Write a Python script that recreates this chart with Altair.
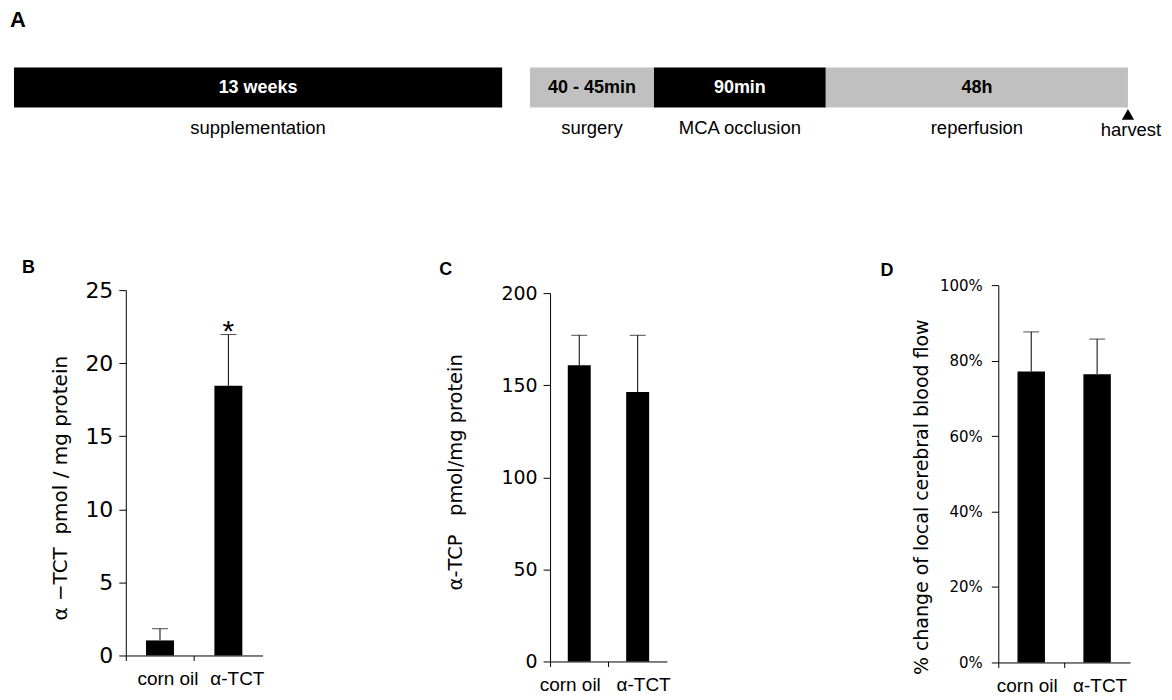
import altair as alt
import pandas as pd

# ---------------- data ----------------
groups = ["corn oil", "α-TCT"]

tct_mean = [1.03, 18.45]
tct_upper = [1.83, 21.96]
tct_sig = ["", "*"]
tct_ticks = [0, 5, 10, 15, 20, 25]

tcp_mean = [160.8, 146.3]
tcp_upper = [177.1, 177.1]
tcp_ticks = [0, 50, 100, 150, 200]

cbf_mean = [0.771, 0.764]
cbf_upper = [0.876, 0.857]
cbf_ticks = [0, 0.2, 0.4, 0.6, 0.8, 1.0]

phase_label = ["13 weeks", "40 - 45min", "90min", "48h"]
phase_caption = ["supplementation", "surgery", "MCA occlusion", "reperfusion"]
phase_start = [0, 105.7, 131.1, 166.3]
phase_end = [100, 131.1, 166.3, 228.2]
phase_shade = ["dark", "light", "dark", "light"]
harvest_at = [228.2]
harvest_label = ["harvest"]

SANS = "Liberation Sans"
WIDE = "DejaVu Sans"

# ---------------- panel A: timeline ----------------
dfA = pd.DataFrame({"label": phase_label, "caption": phase_caption,
                    "start": phase_start, "end": phase_end, "shade": phase_shade})
dfH = pd.DataFrame({"at": harvest_at, "label": harvest_label})

xsA = alt.Scale(domain=[0, 100], range=[-112, 377], zero=False, nice=False)

segs = alt.Chart(dfA).mark_rect().encode(
    x=alt.X("start:Q", scale=xsA, axis=None),
    x2="end:Q",
    color=alt.Color("shade:N", scale=alt.Scale(domain=["dark", "light"], range=["#000000", "#c0c0c0"]), legend=None),
)
seg_text = alt.Chart(dfA).transform_calculate(mid="(datum.start + datum.end) / 2").mark_text(
    font=SANS, fontSize=18, fontWeight="bold", baseline="alphabetic", dy=6
).encode(
    x=alt.X("mid:Q", scale=xsA, axis=None),
    text="label:N",
    color=alt.condition("datum.shade == 'dark'", alt.value("white"), alt.value("black")),
)
seg_caption = alt.Chart(dfA).transform_calculate(mid="(datum.start + datum.end) / 2").mark_text(
    font=SANS, fontSize=18.5, baseline="alphabetic", dy=47, color="black"
).encode(
    x=alt.X("mid:Q", scale=xsA, axis=None),
    text="caption:N",
)
harvest_pt = alt.Chart(dfH).mark_point(
    shape="triangle-up", filled=True, size=150, color="black", opacity=1, yOffset=27
).encode(x=alt.X("at:Q", scale=xsA, axis=None))
harvest_txt = alt.Chart(dfH).mark_text(
    font=SANS, fontSize=18.5, baseline="alphabetic", dy=49, dx=3, color="black"
).encode(x=alt.X("at:Q", scale=xsA, axis=None), text="label:N")

panelA = alt.layer(segs, seg_text, seg_caption, harvest_pt, harvest_txt).properties(
    width=1006, height=40,
    title=alt.TitleParams("A", anchor="start", frame="group", dx=-116, offset=19,
                          font=SANS, fontSize=22, fontWeight="bold", baseline="alphabetic", color="black"),
)


# ---------------- bar panels ----------------
def bar_panel(letter, letter_dx, letter_dy, mean, upper, sig, ticks, y_domain, y_range,
              plot_w, axis_w, bar_w, height, ytitle, title_x, title_y, title_size, tick_font, label_pad,
              off_first, off_second, fmt=None):
    df = pd.DataFrame({"group": groups, "mean": mean, "upper": upper, "sig": sig})
    xdef = alt.X("group:N", sort=groups,
                 scale=alt.Scale(range=[0, axis_w], paddingInner=0, paddingOuter=0),
                 axis=alt.Axis(title=None, labelAngle=0, bandPosition=0, tickSize=5,
                               labelPadding=9, labelFont=SANS, labelFontSize=19,
                               labelOffset={"condition": {"test": f"datum.value === '{groups[0]}'",
                                                          "value": off_first},
                                            "value": off_second},
                               labelColor="black", domainColor="black", tickColor="black"))
    axis_kw = dict(values=ticks, title=ytitle, grid=False, tickSize=7, labelPadding=label_pad,
                   labelFont=WIDE, labelFontSize=tick_font, labelColor="black",
                   titleFont=WIDE, titleFontSize=title_size, titleFontWeight="normal", titleColor="black",
                   titleX=title_x, titleY=title_y, titleBaseline="middle", titleAlign="center",
                   titleAngle=270, domainColor="black", tickColor="black")
    if fmt:
        axis_kw["format"] = fmt
    yaxis = alt.Axis(**axis_kw)
    ys = alt.Scale(domain=y_domain, range=y_range, nice=False, zero=True)

    def ydef(field):
        return alt.Y(f"{field}:Q", scale=ys, axis=yaxis)

    bars = alt.Chart(df).mark_bar(size=bar_w, color="black").encode(x=xdef, y=ydef("mean"))
    err = alt.Chart(df).mark_rule(color="black", strokeWidth=1).encode(x=xdef, y=ydef("mean"), y2="upper:Q")
    cap = alt.Chart(df).mark_tick(orient="horizontal", size=16, thickness=1, color="black").encode(
        x=xdef, y=ydef("upper"))
    star = alt.Chart(df).mark_text(font=SANS, fontSize=30, baseline="alphabetic", dy=6, color="black").encode(
        x=xdef, y=ydef("upper"), text="sig:N")
    return alt.layer(bars, err, cap, star).properties(
        width=plot_w, height=height,
        title=alt.TitleParams(letter, anchor="start", frame="group", dx=letter_dx, dy=letter_dy, offset=0,
                              font=SANS, fontSize=18, fontWeight="bold", baseline="alphabetic", color="black"),
    )


panelB = bar_panel("B", -104, 12, tct_mean, tct_upper, tct_sig, tct_ticks, [0, 25], [371, 5],
                   425, 137, 28, 371, "α −TCT\u00a0\u00a0pmol / mg protein", -65, 203, 20, 22, 6, 8, 9)
panelC = bar_panel("C", -111, 9, tcp_mean, tcp_upper, ["", ""], tcp_ticks, [0, 200], [377, 8],
                   449, 117, 23, 377, "α-TCP\u00a0\u00a0\u00a0pmol/mg protein", -95, 187, 19.5, 19, 6, -9, 6)
panelD = bar_panel("D", -118, 15.5, cbf_mean, cbf_upper, ["", ""], cbf_ticks, [0, 1], [378, 0],
                   132, 132, 27.5, 378, "% change of local cerebral blood flow", -77, 212, 19, 15, 9,
                   -4, 3, fmt=".0%")

row2 = alt.hconcat(panelB, panelC, panelD, spacing=0, bounds="flush")

chart = alt.vconcat(panelA, row2, spacing=178, bounds="flush").properties(
    padding={"left": 2, "top": 0, "right": 2, "bottom": 2},
    background="white",
).configure_view(stroke="transparent", strokeWidth=0)

chart.save("out.html", embed_options={"renderer": "svg", "actions": False})
